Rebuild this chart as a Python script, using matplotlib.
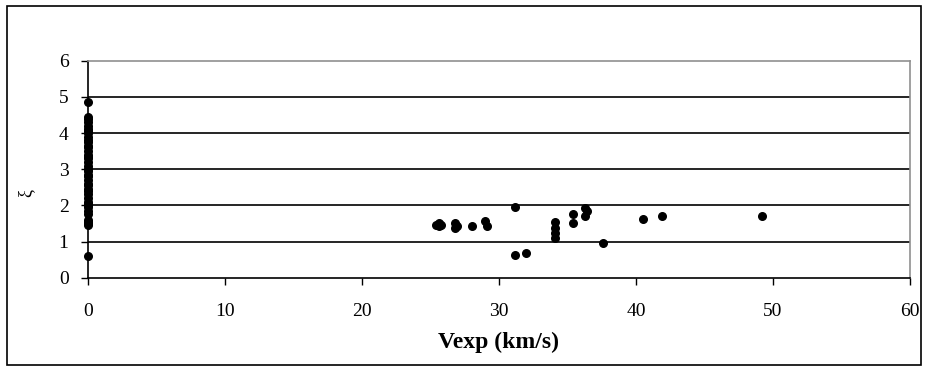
import matplotlib
matplotlib.use("Agg")
import matplotlib.pyplot as plt
from matplotlib.patches import Rectangle

# Vexp = 0 group (stacked along the y axis)
v_zero = [0.0] * 41
xi_zero = [4.85, 4.45, 4.4, 4.3, 4.2, 4.1, 4.05, 4.0, 3.9, 3.8, 3.75, 3.65,
           3.6, 3.5, 3.4, 3.35, 3.3, 3.2, 3.1, 3.0, 2.95, 2.85, 2.8, 2.7,
           2.6, 2.55, 2.45, 2.4, 2.3, 2.2, 2.1, 2.05, 2.0, 1.95, 1.85, 1.75,
           1.6, 1.55, 1.5, 1.45, 0.6]

# measured velocities
v_meas = [25.4, 25.6, 25.8, 25.6, 26.8, 26.8, 26.9, 28.0, 29.0, 29.1,
          31.2, 31.2, 32.0, 34.1, 34.1, 34.1, 34.1, 35.4, 35.4,
          36.3, 36.4, 36.3, 37.6, 40.5, 41.9, 49.2]
xi_meas = [1.45, 1.5, 1.45, 1.42, 1.38, 1.5, 1.44, 1.42, 1.58, 1.43,
           1.95, 0.62, 0.68, 1.55, 1.37, 1.23, 1.09, 1.76, 1.52,
           1.92, 1.83, 1.71, 0.95, 1.62, 1.71, 1.71]

x_ticks = [0, 10, 20, 30, 40, 50, 60]
y_ticks = [0, 1, 2, 3, 4, 5, 6]

plt.rcParams['font.family'] = ['Liberation Serif', 'DejaVu Serif']

fig = plt.figure(figsize=(9.28, 3.70), dpi=100)
ax = fig.add_axes([0.0948, 0.2495, 0.8858, 0.5865])

ax.scatter(v_zero, xi_zero, s=30, color='black', zorder=3, clip_on=False)
ax.scatter(v_meas, xi_meas, s=30, color='black', zorder=3, clip_on=False)

ax.set_xlim(0, 60)
ax.set_ylim(0, 6)
ax.set_xticks(x_ticks)
ax.set_yticks(y_ticks)
ax.tick_params(axis='both', direction='out', length=5, width=1,
               labelsize=14, color='black')
ax.tick_params(axis='y', pad=9)
ax.tick_params(axis='x', pad=13)

# horizontal grid lines at each integer step
for y in y_ticks[1:-1]:
    ax.axhline(y, color='black', lw=1.2, zorder=1)

for side in ['top', 'right']:
    ax.spines[side].set_color('#909090')
    ax.spines[side].set_linewidth(1.2)
for side in ['left', 'bottom']:
    ax.spines[side].set_color('black')
    ax.spines[side].set_linewidth(1.2)

ax.set_xlabel('Vexp (km/s)', fontsize=17, fontweight='bold', labelpad=9)
ax.set_ylabel('ξ', fontsize=13)
ax.yaxis.set_label_coords(-0.065, 0.39)

# outer chart frame
fig.patches.append(Rectangle((0.0075, 0.014), 0.985, 0.97,
                             transform=fig.transFigure, fill=False,
                             edgecolor='black', lw=1.2))

fig.savefig('out.png', dpi=100)
